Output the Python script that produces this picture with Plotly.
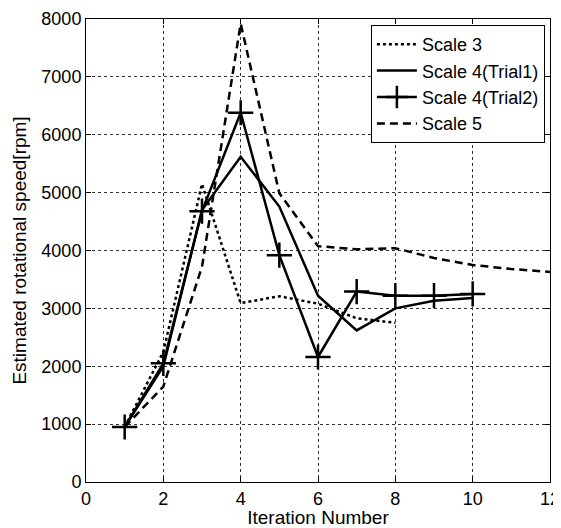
import plotly.graph_objects as go

x3 = [1, 2, 3, 4, 5, 6, 7, 8]
scale3 = [950, 2250, 5150, 3090, 3210, 3080, 2830, 2750]
x41 = [1, 2, 3, 4, 5, 6, 7, 8, 9, 10]
scale4_t1 = [950, 2000, 4700, 5620, 4760, 3220, 2620, 3000, 3130, 3180]
x42 = [1, 2, 3, 4, 5, 6, 7, 8, 9, 10]
scale4_t2 = [950, 2050, 4680, 6380, 3920, 2160, 3290, 3220, 3220, 3250]
x5 = [1, 2, 3, 4, 5, 6, 7, 8, 9, 10, 11, 12]
scale5 = [950, 1650, 3720, 7920, 4990, 4075, 4020, 4040, 3870, 3750, 3680, 3630]

FONT = "Liberation Sans, Arial"

fig = go.Figure()
fig.add_trace(go.Scatter(x=x3, y=scale3, mode="lines", name="Scale 3",
                         line=dict(color="black", width=2.5, dash="dot")))
fig.add_trace(go.Scatter(x=x41, y=scale4_t1, mode="lines", name="Scale 4(Trial1)",
                         line=dict(color="black", width=2.5)))
fig.add_trace(go.Scatter(x=x42, y=scale4_t2, mode="lines+markers", name="Scale 4(Trial2)",
                         line=dict(color="black", width=2.5),
                         marker=dict(symbol="cross-thin", size=18,
                                     line=dict(color="black", width=2.5), color="black")))
fig.add_trace(go.Scatter(x=x5, y=scale5, mode="lines", name="Scale 5",
                         line=dict(color="black", width=2.5, dash="8px,5px")))

axis_common = dict(showline=True, linecolor="black", linewidth=1, mirror="ticks",
                   showgrid=True, gridcolor="#333", griddash="3px,3px", gridwidth=1,
                   zeroline=False, ticks="inside", ticklen=5, tickcolor="black",
                   automargin=False,
                   tickfont=dict(family=FONT, size=18, color="black"))

fig.update_xaxes(range=[0, 12], dtick=2,
                 title=dict(text="Iteration Number", standoff=6,
                            font=dict(family=FONT, size=19, color="black")),
                 **axis_common)
fig.update_yaxes(range=[0, 8000], dtick=1000,
                 title=dict(text="Estimated rotational speed[rpm]", standoff=9,
                            font=dict(family=FONT, size=19, color="black")),
                 **axis_common)

# page body has an 8px margin in the viewer, so the figure is sized/offset to compensate
fig.update_layout(
    width=553, height=520,
    margin=dict(l=78, r=11, t=11, b=46),
    plot_bgcolor="white", paper_bgcolor="white",
    font=dict(family=FONT, color="black"),
    legend=dict(x=0.989, y=0.987, xanchor="right", yanchor="top",
                bgcolor="white", bordercolor="black", borderwidth=1,
                font=dict(family=FONT, size=18, color="black"), tracegroupgap=0,
                itemwidth=40),
    showlegend=True,
)

fig.write_html("out.html")
